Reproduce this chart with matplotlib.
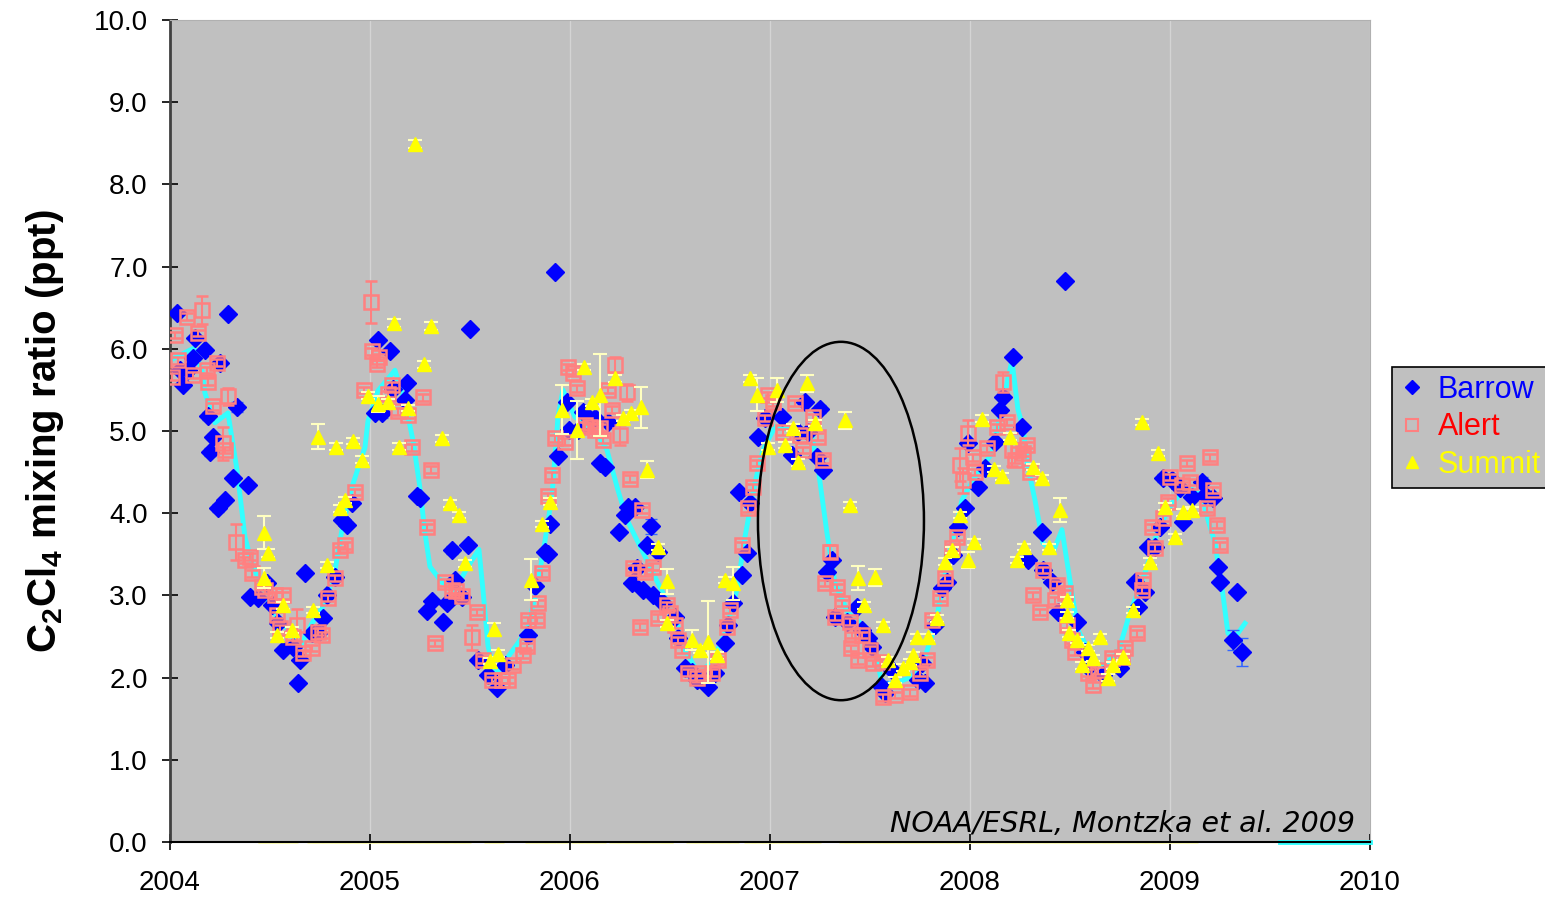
import numpy as np
import matplotlib
matplotlib.use("Agg")
import matplotlib.pyplot as plt
from matplotlib.patches import Ellipse
from matplotlib.lines import Line2D
from matplotlib.ticker import FormatStrFormatter

# (decimal year, C2Cl4 ppt, error)
barrow = [
    (2004.035, 6.44, .03), (2004.05, 5.74, .03), (2004.065, 5.56, .03), (2004.09, 5.74, .03),
    (2004.115, 5.89, .03), (2004.125, 6.13, .03), (2004.175, 5.99, .03), (2004.19, 5.18, .05),
    (2004.20, 4.74, .05), (2004.215, 4.93, .03), (2004.24, 4.06, .05), (2004.25, 5.83, .03),
    (2004.275, 4.16, .03), (2004.29, 6.42, .03), (2004.315, 4.43, .03), (2004.335, 5.29, .06),
    (2004.39, 4.34, .03), (2004.40, 2.98, .03), (2004.44, 2.97, .03), (2004.485, 3.15, .03),
    (2004.51, 2.88, .03), (2004.54, 2.66, .03), (2004.565, 2.34, .03), (2004.615, 2.37, .03),
    (2004.64, 1.93, .03), (2004.65, 2.21, .03), (2004.675, 3.27, .03), (2004.71, 2.54, .03),
    (2004.74, 2.54, .03), (2004.765, 2.73, .03), (2004.785, 3.00, .03), (2004.825, 3.22, .03),
    (2004.86, 3.92, .03), (2004.885, 3.86, .03), (2004.91, 4.12, .03), (2005.025, 5.22, .03),
    (2005.04, 6.11, .03), (2005.06, 5.22, .06), (2005.10, 5.97, .03), (2005.115, 5.51, .03),
    (2005.175, 5.38, .03), (2005.185, 5.58, .03), (2005.235, 4.21, .03), (2005.25, 4.18, .03),
    (2005.285, 2.81, .03), (2005.31, 2.93, .03), (2005.365, 2.68, .03), (2005.385, 2.91, .03),
    (2005.41, 3.55, .05), (2005.425, 3.19, .03), (2005.46, 2.98, .03), (2005.49, 3.61, .03),
    (2005.50, 6.24, .03), (2005.54, 2.21, .03), (2005.59, 2.03, .03), (2005.635, 1.87, .03),
    (2005.675, 2.15, .03), (2005.79, 2.52, .03), (2005.825, 3.11, .03), (2005.875, 3.53, .03),
    (2005.89, 3.50, .03), (2005.90, 3.87, .03), (2005.925, 6.93, .03), (2005.94, 4.70, .03),
    (2005.985, 5.35, .03), (2005.995, 5.01, .03), (2006.04, 5.01, .05), (2006.065, 5.23, .03),
    (2006.125, 5.16, .03), (2006.15, 4.61, .03), (2006.175, 4.56, .03), (2006.19, 5.11, .05),
    (2006.245, 3.77, .03), (2006.275, 3.98, .03), (2006.29, 4.08, .03), (2006.31, 3.15, .03),
    (2006.325, 4.08, .03), (2006.335, 3.33, .03), (2006.365, 3.07, .03), (2006.385, 3.61, .03),
    (2006.405, 3.84, .09), (2006.415, 3.00, .03), (2006.44, 3.53, .03), (2006.465, 2.91, .03),
    (2006.525, 2.74, .03), (2006.54, 2.48, .03), (2006.575, 2.12, .03), (2006.61, 2.07, .03),
    (2006.635, 1.97, .03), (2006.69, 1.89, .03), (2006.725, 2.06, .03), (2006.775, 2.42, .03),
    (2006.79, 2.64, .03), (2006.815, 2.91, .03), (2006.845, 4.26, .03), (2006.86, 3.25, .03),
    (2006.885, 3.52, .03), (2006.90, 4.12, .05), (2006.94, 4.93, .03), (2006.975, 5.16, .03),
    (2007.06, 5.17, .03), (2007.11, 4.71, .03), (2007.14, 4.99, .03), (2007.175, 5.35, .03),
    (2007.19, 4.99, .03), (2007.235, 4.68, .03), (2007.25, 5.27, .05), (2007.265, 4.53, .05),
    (2007.285, 3.28, .03), (2007.31, 3.43, .03), (2007.325, 2.74, .03), (2007.385, 2.68, .03),
    (2007.435, 2.86, .03), (2007.46, 2.58, .03), (2007.49, 2.48, .03), (2007.51, 2.37, .03),
    (2007.56, 1.89, .07), (2007.575, 1.81, .03), (2007.61, 2.09, .03), (2007.74, 1.97, .03),
    (2007.76, 2.18, .03), (2007.775, 1.93, .03), (2007.825, 2.64, .03), (2007.86, 3.09, .03),
    (2007.885, 3.16, .03), (2007.915, 3.49, .03), (2007.94, 3.83, .03), (2007.975, 4.06, .03),
    (2007.99, 4.85, .03), (2008.04, 4.32, .03), (2008.075, 4.55, .03), (2008.125, 4.87, .03),
    (2008.15, 5.26, .03), (2008.165, 5.41, .03), (2008.215, 5.90, .03), (2008.26, 5.05, .03),
    (2008.29, 3.43, .03), (2008.36, 3.77, .03), (2008.365, 3.31, .03), (2008.41, 3.16, .03),
    (2008.44, 2.80, .03), (2008.475, 6.82, .03), (2008.535, 2.68, .03), (2008.575, 2.31, .03),
    (2008.59, 2.13, .03), (2008.665, 2.03, .03), (2008.75, 2.12, .03), (2008.825, 3.16, .03),
    (2008.84, 2.86, .03), (2008.875, 3.04, .03), (2008.89, 3.59, .03), (2008.925, 3.59, .03),
    (2008.95, 3.83, .03), (2008.965, 4.43, .05), (2009.01, 4.40, .03), (2009.05, 4.31, .03),
    (2009.065, 3.89, .03), (2009.11, 4.20, .03), (2009.16, 4.38, .06), (2009.175, 4.22, .03),
    (2009.215, 4.18, .03), (2009.24, 3.35, .03), (2009.25, 3.16, .03), (2009.315, 2.46, .12),
    (2009.335, 3.04, .03), (2009.36, 2.31, .17),
]

alert = [
    (2004.01, 5.66, .04), (2004.025, 6.17, .04), (2004.04, 5.86, .04), (2004.085, 6.39, .04),
    (2004.115, 5.68, .04), (2004.14, 6.19, .04), (2004.16, 6.47, .17), (2004.185, 5.74, .04),
    (2004.19, 5.60, .04), (2004.215, 5.30, .04), (2004.235, 5.83, .04), (2004.265, 4.85, .20),
    (2004.275, 4.77, .04), (2004.29, 5.42, .10), (2004.33, 3.65, .22), (2004.375, 3.43, .04),
    (2004.40, 3.47, .04), (2004.41, 3.27, .04), (2004.46, 3.10, .04), (2004.475, 3.07, .04),
    (2004.525, 3.00, .04), (2004.535, 2.76, .04), (2004.55, 2.60, .04), (2004.565, 3.00, .04),
    (2004.615, 2.50, .04), (2004.635, 2.64, .20), (2004.665, 2.30, .04), (2004.71, 2.36, .04),
    (2004.74, 2.56, .04), (2004.76, 2.52, .04), (2004.79, 2.97, .04), (2004.825, 3.21, .04),
    (2004.85, 3.55, .04), (2004.875, 3.61, .04), (2004.925, 4.26, .04), (2004.97, 5.50, .04),
    (2005.005, 6.57, .25), (2005.01, 5.97, .04), (2005.035, 5.82, .04), (2005.045, 5.90, .04),
    (2005.09, 5.45, .04), (2005.11, 5.56, .04), (2005.14, 5.24, .04), (2005.19, 5.20, .04),
    (2005.21, 4.80, .04), (2005.265, 5.41, .04), (2005.285, 3.83, .04), (2005.305, 4.53, .04),
    (2005.325, 2.42, .04), (2005.375, 3.16, .04), (2005.41, 3.07, .04), (2005.43, 3.05, .04),
    (2005.46, 2.99, .04), (2005.51, 2.49, .15), (2005.535, 2.80, .04), (2005.565, 2.22, .04),
    (2005.61, 1.97, .04), (2005.66, 1.97, .04), (2005.69, 1.97, .04), (2005.715, 2.15, .04),
    (2005.765, 2.28, .04), (2005.785, 2.38, .04), (2005.79, 2.70, .04), (2005.835, 2.70, .04),
    (2005.84, 2.91, .04), (2005.86, 3.27, .04), (2005.89, 4.21, .04), (2005.91, 4.46, .04),
    (2005.925, 4.91, .04), (2005.975, 4.87, .04), (2005.99, 5.78, .04), (2006.015, 5.71, .04),
    (2006.035, 5.52, .04), (2006.075, 5.07, .04), (2006.10, 5.05, .04), (2006.125, 5.01, .04),
    (2006.15, 5.04, .04), (2006.165, 4.89, .04), (2006.19, 5.50, .04), (2006.21, 5.26, .04),
    (2006.225, 5.80, .10), (2006.25, 4.95, .12), (2006.285, 5.47, .10), (2006.30, 4.42, .04),
    (2006.315, 3.33, .04), (2006.35, 2.62, .04), (2006.36, 4.04, .04), (2006.375, 3.28, .04),
    (2006.415, 3.35, .04), (2006.44, 2.73, .04), (2006.485, 2.88, .04), (2006.50, 2.78, .04),
    (2006.525, 2.64, .04), (2006.54, 2.46, .04), (2006.56, 2.34, .04), (2006.59, 2.06, .04),
    (2006.635, 1.99, .04), (2006.665, 2.06, .04), (2006.71, 2.06, .04), (2006.74, 2.21, .04),
    (2006.785, 2.62, .04), (2006.80, 2.82, .04), (2006.86, 3.61, .04), (2006.89, 4.06, .04),
    (2006.915, 4.32, .04), (2006.935, 4.61, .04), (2006.975, 5.16, .04), (2006.99, 5.44, .04),
    (2007.015, 5.35, .04), (2007.065, 4.99, .04), (2007.125, 5.34, .04), (2007.15, 4.95, .04),
    (2007.165, 4.77, .04), (2007.215, 5.17, .04), (2007.24, 4.93, .04), (2007.265, 4.65, .04),
    (2007.275, 3.15, .04), (2007.30, 3.53, .08), (2007.325, 2.74, .04), (2007.335, 3.10, .04),
    (2007.36, 2.91, .04), (2007.40, 2.68, .04), (2007.405, 2.36, .04), (2007.41, 2.52, .04),
    (2007.44, 2.21, .04), (2007.46, 2.52, .04), (2007.50, 2.34, .04), (2007.515, 2.18, .04),
    (2007.56, 2.19, .04), (2007.565, 1.76, .04), (2007.625, 1.79, .04), (2007.70, 1.82, .04),
    (2007.75, 2.06, .04), (2007.785, 2.21, .04), (2007.81, 2.70, .04), (2007.85, 2.97, .04),
    (2007.875, 3.21, .04), (2007.91, 3.58, .04), (2007.935, 3.71, .04), (2007.95, 4.59, .20),
    (2007.965, 4.40, .15), (2007.99, 4.98, .15), (2008.015, 4.68, .04), (2008.025, 4.50, .04),
    (2008.085, 4.79, .04), (2008.135, 5.05, .04), (2008.165, 5.60, .12), (2008.185, 5.11, .04),
    (2008.21, 4.77, .20), (2008.225, 4.65, .04), (2008.24, 4.77, .04), (2008.265, 4.73, .04),
    (2008.285, 4.83, .04), (2008.30, 4.50, .04), (2008.315, 3.00, .04), (2008.35, 2.80, .04),
    (2008.365, 3.31, .04), (2008.425, 2.94, .04), (2008.435, 3.13, .04), (2008.475, 3.03, .04),
    (2008.485, 2.64, .04), (2008.51, 2.46, .04), (2008.525, 2.31, .04), (2008.59, 2.06, .04),
    (2008.615, 1.91, .04), (2008.64, 2.09, .04), (2008.71, 2.24, .04), (2008.76, 2.25, .04),
    (2008.775, 2.36, .04), (2008.835, 2.54, .04), (2008.86, 3.07, .04), (2008.865, 3.19, .04),
    (2008.91, 3.83, .04), (2008.925, 3.58, .04), (2008.965, 3.94, .04), (2008.99, 4.14, .04),
    (2009.00, 4.44, .04), (2009.06, 4.34, .04), (2009.085, 4.61, .04), (2009.10, 4.38, .04),
    (2009.185, 4.06, .04), (2009.20, 4.68, .04), (2009.215, 4.28, .04), (2009.235, 3.86, .04),
    (2009.25, 3.61, .04),
]

summit = [
    (2004.47, 3.76, .20), (2004.47, 3.21, .12), (2004.49, 3.52, .05), (2004.535, 2.52, .04),
    (2004.565, 2.88, .04), (2004.61, 2.58, .04), (2004.715, 2.82, .04), (2004.74, 4.93, .15),
    (2004.785, 3.37, .04), (2004.83, 4.81, .04), (2004.85, 4.06, .04), (2004.875, 4.16, .04),
    (2004.915, 4.88, .04), (2004.96, 4.65, .04), (2004.99, 5.43, .04), (2005.04, 5.33, .10),
    (2005.09, 5.35, .04), (2005.12, 6.31, .05), (2005.145, 4.81, .04), (2005.19, 5.28, .04),
    (2005.225, 8.49, .05), (2005.27, 5.81, .04), (2005.305, 6.28, .05), (2005.36, 4.91, .04),
    (2005.40, 4.12, .04), (2005.445, 3.98, .04), (2005.475, 3.39, .04), (2005.60, 2.20, .04),
    (2005.62, 2.59, .08), (2005.64, 2.29, .04), (2005.805, 3.19, .25), (2005.86, 3.87, .04),
    (2005.90, 4.14, .04), (2005.96, 5.26, .30), (2006.035, 5.01, .35), (2006.07, 5.78, .04),
    (2006.11, 5.35, .04), (2006.15, 5.44, .50), (2006.225, 5.64, .04), (2006.265, 5.16, .04),
    (2006.305, 5.22, .04), (2006.355, 5.29, .25), (2006.385, 4.53, .10), (2006.44, 3.59, .04),
    (2006.485, 3.17, .15), (2006.485, 2.66, .04), (2006.61, 2.46, .12), (2006.65, 2.34, .04),
    (2006.69, 2.43, .50), (2006.735, 2.27, .04), (2006.775, 3.19, .04), (2006.815, 3.15, .20),
    (2006.90, 5.64, .04), (2006.935, 5.44, .20), (2006.99, 4.81, .04), (2007.035, 5.50, .15),
    (2007.075, 4.83, .04), (2007.115, 5.04, .04), (2007.14, 4.62, .04), (2007.185, 5.58, .10),
    (2007.225, 5.10, .04), (2007.375, 5.13, .10), (2007.40, 4.10, .04), (2007.44, 3.21, .15),
    (2007.47, 2.88, .04), (2007.525, 3.22, .10), (2007.565, 2.64, .04), (2007.59, 2.21, .04),
    (2007.625, 1.97, .04), (2007.665, 2.12, .04), (2007.70, 2.19, .04), (2007.715, 2.27, .04),
    (2007.735, 2.49, .04), (2007.79, 2.49, .04), (2007.835, 2.72, .04), (2007.875, 3.41, .04),
    (2007.91, 3.55, .04), (2007.95, 3.98, .04), (2007.99, 3.43, .10), (2008.02, 3.65, .04),
    (2008.06, 5.15, .04), (2008.12, 4.54, .04), (2008.16, 4.45, .04), (2008.20, 4.93, .04),
    (2008.235, 3.43, .04), (2008.27, 3.59, .04), (2008.315, 4.56, .04), (2008.36, 4.43, .04),
    (2008.395, 3.59, .04), (2008.45, 4.04, .15), (2008.485, 2.94, .04), (2008.485, 2.76, .04),
    (2008.495, 2.54, .04), (2008.535, 2.46, .04), (2008.56, 2.15, .04), (2008.59, 2.36, .04),
    (2008.615, 2.24, .04), (2008.65, 2.49, .04), (2008.69, 2.00, .04), (2008.715, 2.15, .04),
    (2008.765, 2.25, .04), (2008.815, 2.82, .04), (2008.86, 5.11, .04), (2008.90, 3.41, .04),
    (2008.94, 4.73, .04), (2008.975, 4.08, .04), (2009.025, 3.71, .04), (2009.065, 4.01, .04),
    (2009.11, 4.04, .04),
]

# smoothed fit (cyan)
fit_t = [2004.00, 2004.12, 2004.16, 2004.175, 2004.225, 2004.29, 2004.335, 2004.375, 2004.41,
         2004.46, 2004.51, 2004.59, 2004.65, 2004.71, 2004.775, 2004.825, 2004.86, 2004.91,
         2004.975, 2004.99, 2005.04, 2005.125, 2005.175, 2005.215, 2005.25, 2005.275, 2005.30,
         2005.36, 2005.425, 2005.49, 2005.545, 2005.565, 2005.59, 2005.625, 2005.675, 2005.74,
         2005.79, 2005.84, 2005.875, 2005.91, 2005.94, 2005.965, 2006.025, 2006.125, 2006.185,
         2006.24, 2006.285, 2006.36, 2006.44, 2006.525, 2006.575, 2006.64, 2006.71, 2006.775,
         2006.835, 2006.875, 2006.925, 2006.965, 2007.025, 2007.11, 2007.21, 2007.24, 2007.285,
         2007.325, 2007.39, 2007.475, 2007.525, 2007.56, 2007.625, 2007.71, 2007.775, 2007.825,
         2007.89, 2007.96, 2008.025, 2008.11, 2008.175, 2008.21, 2008.24, 2008.265, 2008.29,
         2008.325, 2008.365, 2008.415, 2008.46, 2008.51, 2008.54, 2008.61, 2008.66, 2008.74,
         2008.80, 2008.875, 2008.94, 2009.01, 2009.085, 2009.16, 2009.19, 2009.225, 2009.26,
         2009.29, 2009.325, 2009.375]
fit_v = [5.86, 6.01, 5.73, 5.46, 5.10, 5.22, 4.53, 3.71, 3.39,
         3.10, 2.82, 2.58, 2.37, 2.66, 2.90, 3.30, 3.80, 4.32,
         4.80, 5.12, 5.49, 5.74, 5.35, 4.89, 4.31, 3.76, 3.35,
         3.16, 3.07, 3.35, 3.56, 3.07, 2.39, 2.02, 2.20, 2.42,
         2.60, 3.16, 3.66, 4.21, 5.17, 5.50, 5.17, 5.01, 4.77,
         4.28, 3.92, 3.55, 3.15, 2.74, 2.34, 2.06, 2.18, 2.54,
         3.07, 3.71, 4.37, 4.77, 5.05, 5.01, 4.93, 4.56, 3.76,
         3.15, 2.79, 2.62, 2.34, 1.93, 1.93, 2.01, 2.25, 2.62,
         3.43, 4.16, 4.44, 4.73, 5.46, 5.86, 5.26, 5.05, 4.56,
         4.16, 3.64, 3.52, 3.80, 3.03, 2.58, 2.25, 2.13, 2.30,
         2.79, 3.27, 3.80, 4.12, 4.32, 4.22, 3.92, 3.64, 3.10,
         2.54, 2.49, 2.66]
fit_tail_t = [2009.55, 2010.0]
fit_tail_v = [0.0, 0.0]

years = list(range(2004, 2011))
yticks = np.arange(0, 10.01, 1.0)

plt.rcParams["font.family"] = ["Liberation Sans", "DejaVu Sans"]
plt.rcParams["mathtext.fontset"] = "custom"
plt.rcParams["mathtext.rm"] = "Liberation Sans"
plt.rcParams["mathtext.bf"] = "Liberation Sans:bold"

fig = plt.figure(figsize=(15.45, 8.97), dpi=100)
ax = fig.add_axes([0.1100, 0.0613, 0.7767, 0.9164])
ax.set_facecolor("#C0C0C0")

bt, bv, be = zip(*barrow)
at, av, ae = zip(*alert)
st, sv, se = zip(*summit)

ax.plot(fit_t, fit_v, color="#33FFFF", lw=3.5, zorder=2)
ax.plot(fit_tail_t, fit_tail_v, color="#33FFFF", lw=3.5, zorder=2, clip_on=False)

# zero-valued Summit flags sitting on the axis
st_zero = [t for t in st if t <= 2009.15]
ax.plot(st_zero, np.zeros(len(st_zero)), ls="none", marker="_", ms=9, mew=2,
        color="#FFFFB0", clip_on=False, zorder=1.5)

ax.errorbar(bt, bv, yerr=be, fmt="D", ms=9, color="#0000FF", mec="#0000FF",
            ecolor="#3366FF", elinewidth=1.2, capsize=4, zorder=3)
ax.errorbar(at, av, yerr=ae, fmt="s", ms=9.5, mfc="none", mec="#FF8080", mew=1.8,
            ecolor="#FF8080", elinewidth=1.5, capsize=4, capthick=1.5, zorder=4)
ax.errorbar(st, sv, yerr=se, fmt="^", ms=10.5, color="#FFFF00", mec="#FFFF00",
            ecolor="#FFFFC0", elinewidth=1.5, capsize=5, capthick=1.5, zorder=5)

ax.add_patch(Ellipse((2007.355, 3.905), width=0.83, height=4.36, fill=False,
                     edgecolor="black", lw=1.8, zorder=6))

ax.set_xlim(2004, 2010)
ax.set_ylim(0, 10)
ax.set_xticks(years)
ax.set_yticks(yticks)
ax.yaxis.set_major_formatter(FormatStrFormatter("%.1f"))
ax.xaxis.grid(True, color="#D4D4D4", lw=1)
ax.set_axisbelow(True)
ax.tick_params(direction="inout", length=12, width=1.2, labelsize=20)
ax.tick_params(axis="x", pad=14)
ax.tick_params(axis="y", pad=10)

for side in ("top", "right"):
    ax.spines[side].set_color("#B0B0B0")
ax.spines["left"].set_color("#404040")
ax.spines["left"].set_linewidth(2)
ax.spines["bottom"].set_linewidth(1.5)

ax.set_ylabel(r"C$_\mathbf{2}$Cl$_\mathbf{4}$ mixing ratio (ppt)", fontsize=29,
              fontweight="bold", labelpad=20)

ax.text(0.9875, 0.012, "NOAA/ESRL, Montzka et al. 2009", transform=ax.transAxes,
        ha="right", va="baseline", fontsize=20.5, style="italic", family="DejaVu Sans")

handles = [
    Line2D([], [], ls="none", marker="D", ms=7, color="#0000FF"),
    Line2D([], [], ls="none", marker="s", ms=8, mfc="none", mec="#FF8080", mew=1.5),
    Line2D([], [], ls="none", marker="^", ms=9, color="#FFFF00"),
]
leg = fig.legend(handles, ["Barrow", "Alert", "Summit"], loc="upper left",
                 bbox_to_anchor=(1392 / 1545, 1 - 367 / 897), fontsize=22,
                 fancybox=False, framealpha=1, handlelength=0.8, handletextpad=0.45,
                 borderpad=0.25, labelspacing=0.25, borderaxespad=0)
leg.get_frame().set_facecolor("#C0C0C0")
leg.get_frame().set_edgecolor("black")
leg.get_frame().set_linewidth(1.2)
for txt, c in zip(leg.get_texts(), ["#0000FF", "#FF0000", "#FFFF00"]):
    txt.set_color(c)

fig.savefig("out.png", dpi=100)
